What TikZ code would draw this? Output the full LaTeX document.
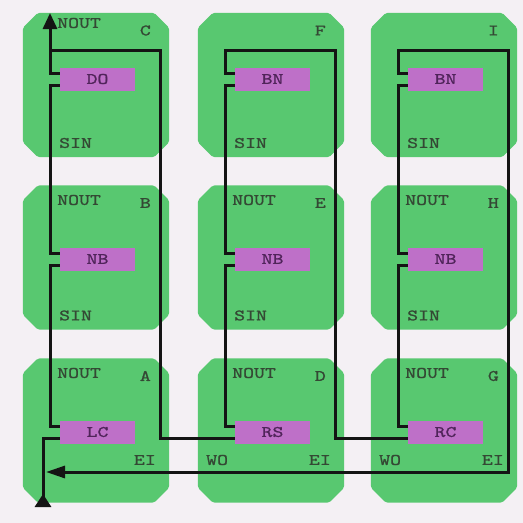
\documentclass[tikz,border=0pt]{standalone}
\usepackage{fontspec}
\usepackage{tikz}
\usetikzlibrary{positioning,calc}
\usetikzlibrary{arrows.meta}
\newfontfamily\cellfont{lmmono10-regular.otf}[FakeStretch=1.3,FakeBold=1.2]
\definecolor{CellGreen}{RGB}{88,200,112}
\definecolor{UnitPurple}{RGB}{190,112,200}
\definecolor{PaperGray}{RGB}{244,240,244}
\definecolor{LabelInk}{RGB}{52,72,52}
\definecolor{UnitInk}{RGB}{80,36,90}
\tikzset{
	cell/.style={minimum width=146pt,minimum height=144pt,inner sep=0pt},
	cellfill/.style={fill=CellGreen,rounded corners=2pt},
	unit/.style={fill=UnitPurple,minimum width=75pt,minimum height=23pt,inner sep=0pt,
		text=UnitInk,font=\cellfont\fontsize{16}{16}\selectfont},
	lbl/.style={text=LabelInk,font=\cellfont\fontsize{16}{16}\selectfont,inner sep=0pt},
	wire/.style={draw=black!92,line width=3pt},
}

\begin{document}
\begin{tikzpicture}[x=1pt,y=-1pt]
	\fill[PaperGray] (0,0) rectangle (523,523);
	\useasboundingbox (0,0) rectangle (523,523);
	% cells
	\foreach \c/\x/\y in {C/96/85,F/271/85,I/444/85,B/96/257.5,E/271/257.5,H/444/257.5,A/96/430.5,D/271/430.5,G/444/430.5}{
		\node[cell] (\c) at (\x,\y) {};
		\fill[cellfill] ($(\c.north west)+(15,0)$) -- ($(\c.north east)+(-15,0)$) -- ($(\c.north east)+(0,15)$)
		-- ($(\c.south east)+(0,-15)$) -- ($(\c.south east)+(-15,0)$) -- ($(\c.south west)+(15,0)$)
		-- ($(\c.south west)+(0,-15)$) -- ($(\c.north west)+(0,15)$) -- cycle;
	}
	% corner letters and port names
	\foreach \c in {C,F,I,B,E,H,A,D,G}
	\node[lbl,anchor=east] (t\c) at ($(\c)+(55,-54.5)$) {\c};
	\foreach \c/\dy in {C/-62,B/-57.5,E/-57.5,H/-57.5,A/-57.5,D/-57.5,G/-57.5}
	\node[lbl,anchor=west] (no\c) at ($(\c)+(-39,\dy)$) {NOUT};
	\foreach \c in {C,F,I,B,E,H}
	\node[lbl,anchor=west] (si\c) at ($(\c)+(-37,58)$) {SIN};
	\foreach \c in {A,D,G}
	\node[lbl,anchor=east] (ei\c) at ($(\c)+(60,29.5)$) {EI};
	\foreach \c in {D,G}
	\node[lbl,anchor=west] (wo\c) at ($(\c)+(-65,29.5)$) {WO};
	% wires
	\coordinate (nout) at (50,13);
	\coordinate (r1) at (160,50);
	\coordinate (r2) at (335,50);
	\coordinate (r3) at (508,50);
	\coordinate (r3b) at (508,472);
	\coordinate (eiin) at (46,472);
	\coordinate (sout) at (43,507);
	\foreach \c/\dy in {C/-6,F/-6,I/-6,B/1.5,E/1.5,H/1.5,A/1.5,D/1.5,G/1.5}
	\coordinate (p\c) at ($(\c)+(1.5,\dy)$);
	\foreach \lo/\up in {A/B,B/C,D/E,E/F,G/H,H/I}
	\draw[wire] ($(p\lo)+(-37.5,-6)$) -- ++(-10,0) |- ($(p\up)+(-37.5,6)$);
	\draw[wire,-{Triangle[length=16pt,width=14pt]}] ($(pC)+(-37.5,-6)$) -- ++(-10,0) -- (nout);
	\draw[wire] ($(pC)+(-37.5,-6)$) -- ++(-10,0) |- (r1) |- ($(pD)+(-37.5,6)$);
	\draw[wire] ($(pF)+(-37.5,-6)$) -- ++(-10,0) |- (r2) |- ($(pG)+(-37.5,6)$);
	\draw[wire,-{Triangle[length=19pt,width=12pt]}] ($(pI)+(-37.5,-6)$) -- ++(-10,0) |- (r3) -- (r3b) -- (eiin);
	\draw[wire,-{Triangle[reversed,length=13pt,width=16pt]}] ($(pA)+(-37.5,6)$) -- ++(-17,0) -- (sout);
	% units
	\foreach \c/\t in {C/DO,F/BN,I/BN,B/NB,E/NB,H/NB,A/LC,D/RS,G/RC}
	\node[unit] (u\c) at (p\c) {\t};
\end{tikzpicture}
\end{document}
